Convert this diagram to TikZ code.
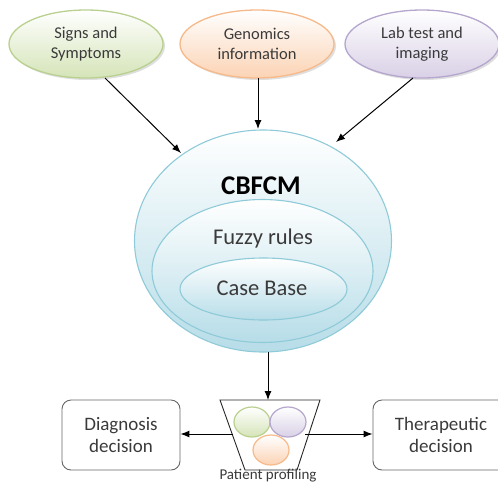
\documentclass[tikz,border=0pt]{standalone}
\usepackage{fontspec}
\setmainfont{Carlito}
\usetikzlibrary{arrows.meta,shapes.geometric,shadows}
\definecolor{txt}{HTML}{3A3A3A}
\definecolor{gbd}{HTML}{B9D08F}
\definecolor{gfl}{HTML}{D5E4B8}
\definecolor{obd}{HTML}{F6B98A}
\definecolor{ofl}{HTML}{FBD3B4}
\definecolor{pbd}{HTML}{B4A6CC}
\definecolor{pfl}{HTML}{D9D0E6}
\definecolor{bbd}{HTML}{8FCAD8}
\definecolor{bfl}{HTML}{B7DDE8}
\tikzset{
  src/.style={ellipse, draw=#1bd, line width=1.3pt, top color=white, bottom color=#1fl,
     minimum width=154pt, minimum height=68pt, align=center, text=txt, font=\fontsize{16.5}{20}\selectfont,
     drop shadow={shadow xshift=2pt, shadow yshift=-2pt, opacity=0.25}},
  layer/.style={ellipse, draw=bbd, line width=1.1pt, top color=white, bottom color=bfl},
  arr/.style={-{Latex[length=9pt,width=7pt]}, line width=1pt, black},
  dec/.style={draw=black!60, rounded corners=9pt, line width=0.9pt, align=center, text=txt,
     font=\fontsize{19}{22}\selectfont, minimum height=70pt},
  blob/.style={ellipse, draw=#1bd, line width=1.2pt, top color=white, bottom color=#1fl,
     minimum width=36pt, minimum height=30pt, inner sep=0pt}
}
\begin{document}
\begin{tikzpicture}[x=1pt,y=-1pt]
\useasboundingbox (0,0) rectangle (498,483);
% source ellipses
\node[src=g] (sg) at (86,44) {Signs and\\Symptoms};
\node[src=o] (so) at (257,44) {Genomics\\information};
\node[src=p] (sp) at (422,44) {Lab test and\\imaging};
% CBFCM
\node[layer, minimum width=257pt, minimum height=222pt] (big) at (263,241) {};
\node[layer, minimum width=221pt, minimum height=143pt] (mid) at (262.5,271) {};
\node[layer, minimum width=167pt, minimum height=62pt] (inn) at (263.5,289) {};
\node[font=\bfseries\fontsize{27}{30}\selectfont] (cb) at (261,186) {CBFCM};
\node[font=\fontsize{22.5}{26}\selectfont, text=txt] (fr) at (263,238) {Fuzzy rules};
\node[font=\fontsize{22.5}{26}\selectfont, text=txt] (cbase) at (262,288) {Case Base};
% arrows from sources
\coordinate (sgb) at (105,78);
\coordinate (sob) at (258,78);
\coordinate (spb) at (413,78);
\coordinate (bigl) at (181,153);
\coordinate (bigt) at (258,129);
\coordinate (bigr) at (336,142);
\draw[arr] (sgb) -- (bigl);
\draw[arr] (sob) -- (bigt);
\draw[arr] (spb) -- (bigr);
% patient profiling
\coordinate (t1) at (220,400);
\coordinate (t2) at (320,400);
\coordinate (t3) at (297,470);
\coordinate (t4) at (245,470);
\draw[line width=0.9pt, black!85] (t1) -- (t2) -- (t3) -- (t4) -- cycle;
\coordinate (ttop) at (268,400);
\coordinate (bigb) at (268,352);
\draw[arr] (bigb) -- (ttop);
\node[blob=g] (bg) at (252,422) {};
\node[blob=p] (bp) at (288,422) {};
\node[blob=o] (bo) at (271,450) {};
\node[font=\fontsize{15}{17}\selectfont, text=txt, anchor=base, inner sep=0pt] (pp) at (268,479) {Patient profiling};
% decisions
\node[dec, minimum width=118pt] (dd) at (121,435) {Diagnosis\\decision};
\node[dec, minimum width=136pt] (td) at (441,435) {Therapeutic\\decision};
\coordinate (tl) at (233,434);
\coordinate (tr) at (305,434);
\draw[arr] (tl) -- (dd.east |- tl);
\draw[arr] (tr) -- (td.west |- tr);
\end{tikzpicture}
\end{document}
